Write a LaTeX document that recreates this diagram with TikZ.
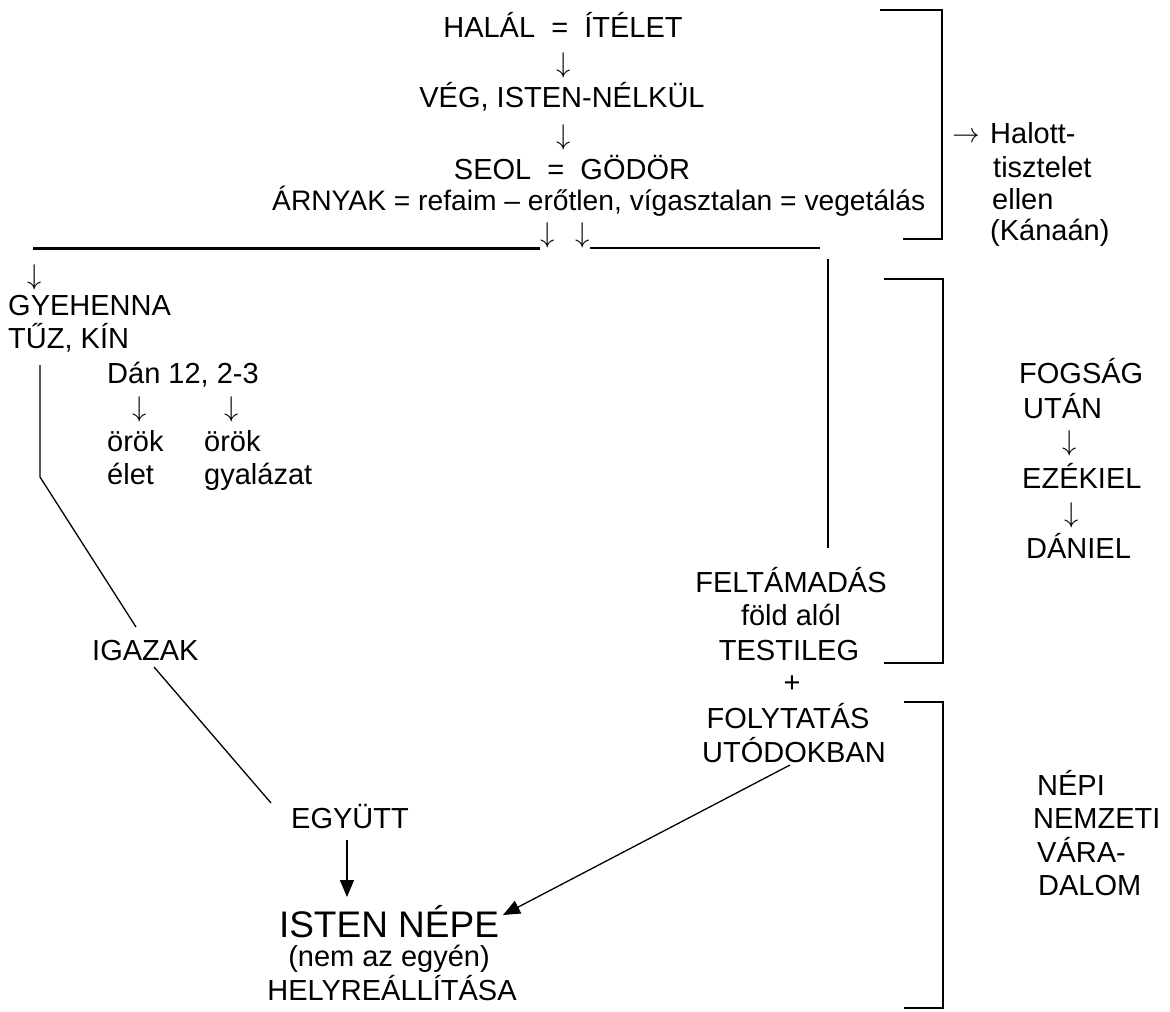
\documentclass[tikz,border=0pt]{standalone}
\usepackage{fontspec}
\setmainfont{Liberation Sans}
\usetikzlibrary{arrows.meta}
\newcommand{\dnarr}{\scalebox{1.15}{$\downarrow$}}
\newcommand{\rtarr}{\scalebox{1.1}{$\rightarrow$}}
\begin{document}
\begin{tikzpicture}[x=1pt,y=-1pt,
  t/.style={inner sep=0pt,anchor=base,font=\fontsize{29}{33}\selectfont},
  tw/.style={t,anchor=base west},
  arr/.style={inner sep=0pt,anchor=center,font=\fontsize{24.88}{30}\selectfont},
  ln/.style={line width=1.3pt},
  brk/.style={line width=1.5pt},
  tip/.style={-{Triangle[width=14pt,length=17pt]},line width=1.3pt}]
\useasboundingbox (0,0) rectangle (1170,1012);
% top column
\node[t] (halal) at (563,37) {HALÁL\ \ =\ \ ÍTÉLET};
\node[arr] (a1) at (564,65) {\dnarr};
\node[t] (veg) at (562,107) {VÉG, ISTEN-NÉLKÜL};
\node[arr] (a2) at (564,137) {\dnarr};
\node[t] (seol) at (572,179) {SEOL\ \ =\ \ GÖDÖR};
\node[tw,font=\fontsize{28.2}{33}\selectfont] (arnyak) at (272,210) {ÁRNYAK = refaim – erőtlen, vígasztalan = vegetálás};
\node[arr] (a3) at (548,235) {\dnarr};
\node[arr] (a4) at (583,235) {\dnarr};
\coordinate (hl1) at (33,248);
\coordinate (hl2) at (540,248);
\coordinate (hr1) at (590,248);
\coordinate (hr2) at (820,248);
\draw[line width=3pt] (hl1) -- (hl2);
\draw[line width=1.8pt] (hr1) -- (hr2);
% right top note
\node[arr] (a5) at (966,137) {\rtarr};
\node[tw] (halott) at (990,143) {Halott-};
\node[tw] (tisztelet) at (993,177) {tisztelet};
\node[tw] (ellen) at (992,209) {ellen};
\node[tw] (kanaan) at (990,240) {(Kánaán)};
% left branch
\node[arr] (a6) at (35,277) {\dnarr};
\node[tw] (gyehenna) at (8,315) {GYEHENNA};
\node[tw] (tuz) at (8,348) {TŰZ, KÍN};
\node[tw] (dan) at (107,383) {Dán 12, 2-3};
\node[arr] (a7) at (140,409) {\dnarr};
\node[arr] (a8) at (232,409) {\dnarr};
\node[tw] (orok1) at (107,451) {örök};
\node[tw] (orok2) at (204,451) {örök};
\node[tw] (elet) at (107,484) {élet};
\node[tw] (gyal) at (204,484) {gyalázat};
\node[tw] (igazak) at (92,660) {IGAZAK};
\node[t] (egyutt) at (350,828) {EGYÜTT};
\node[t,font=\fontsize{37}{40}\selectfont] (isten) at (389,937) {ISTEN NÉPE};
\node[t] (nem) at (389,966) {(nem az egyén)};
\node[t] (helyre) at (392,1000) {HELYREÁLLÍTÁSA};
\coordinate (v1) at (40,365);
\coordinate (v2) at (40,477);
\coordinate (v3) at (136,627);
\coordinate (d1) at (154,667);
\coordinate (d2) at (271,803);
\draw[ln] (v1) -- (v2) -- (v3);
\draw[ln] (d1) -- (d2);
\coordinate (e1) at (347,840);
\coordinate (e2) at (347,897);
\draw[tip] (e1) -- (e2);
% right branch
\coordinate (r1) at (828,259);
\coordinate (r2) at (828,548);
\draw[ln] (r1) -- (r2);
\node[t] (feltam) at (791,592) {FELTÁMADÁS};
\node[t] (fold) at (791,625) {föld alól};
\node[t] (testileg) at (789,660) {TESTILEG};
\node[t] (plus) at (792,692) {+};
\node[t] (folyt) at (788,728) {FOLYTATÁS};
\node[t] (utod) at (794,762) {UTÓDOKBAN};
\coordinate (u1) at (790,765);
\coordinate (u2) at (503,915);
\draw[tip] (u1) -- (u2);
% far right column
\node[tw] (fogsag) at (1019,383) {FOGSÁG};
\node[tw] (utan) at (1023,418) {UTÁN};
\node[arr] (a9) at (1070,443) {\dnarr};
\node[tw] (ezekiel) at (1022,488) {EZÉKIEL};
\node[arr] (a10) at (1072,515) {\dnarr};
\node[tw] (daniel) at (1026,558) {DÁNIEL};
\node[tw] (nepi) at (1037,795) {NÉPI};
\node[tw] (nemzeti) at (1033,828) {NEMZETI};
\node[tw] (vara) at (1037,862) {VÁRA-};
\node[tw] (dalom) at (1038,895) {DALOM};
% brackets
\draw[brk] (880,10) -- (942,10) -- (942,239) -- (903,239);
\draw[brk] (884,279) -- (943,279) -- (943,663) -- (884,663);
\draw[brk] (904,702) -- (943,702) -- (943,1008) -- (904,1008);
\end{tikzpicture}
\end{document}
